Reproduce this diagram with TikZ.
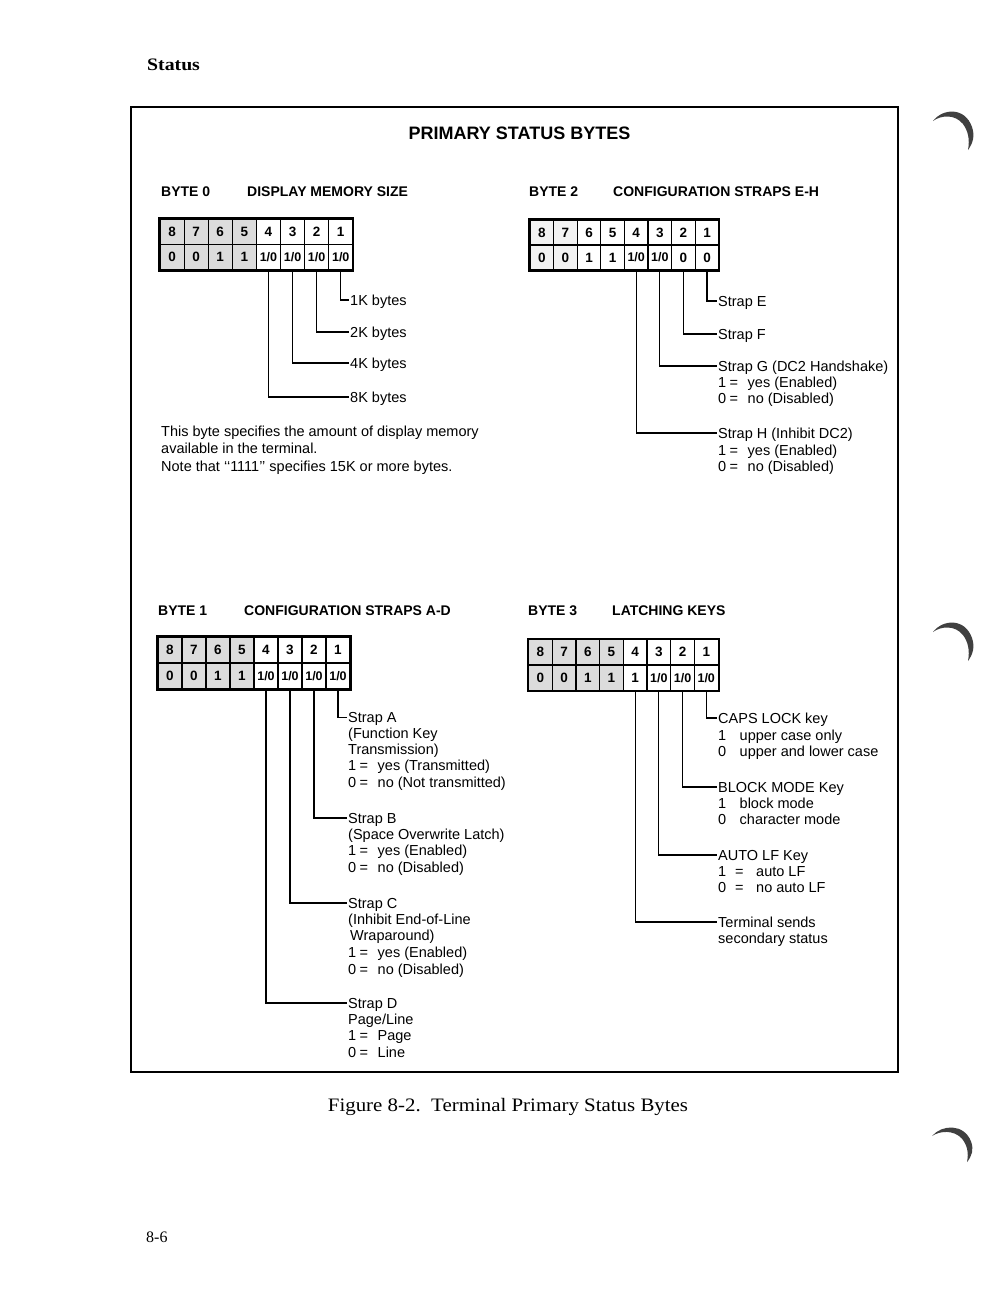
\documentclass[tikz,border=0pt]{standalone}
\usepackage{graphicx}
\usepackage{fontspec}
\newfontfamily\arial{Liberation Sans}
\newfontfamily\serifface{Liberation Serif}
\definecolor{shade}{HTML}{DCDCDC}
\definecolor{shadelt}{HTML}{F2F2F2}
\newcommand\IO{{\fontsize{12.5}{12.5}\selectfont 1/0}}
\newcommand\eqline[2]{\makebox[11.5pt][l]{#1}\makebox[18pt][l]{=}#2}
\newcommand\nbline[2]{\makebox[21.5pt][l]{#1}#2}
\tikzset{
  cell/.style={draw=black, line width=1.2pt, inner sep=0pt,
    font=\arial\bfseries\fontsize{13.5}{13.5}\selectfont},
  gridout/.style={draw=black, line width=2pt},
  conn/.style={draw=black, line width=1.2pt},
  frame/.style={draw=black, line width=1.5pt},
  lbl/.style={anchor=west, inner xsep=1pt, inner ysep=0pt, text height=10.4pt, text depth=0pt,
    font=\arial\fontsize{14.5}{16.4}\selectfont},
  descline/.style={anchor=base west, inner sep=0pt,
    font=\arial\fontsize{14.5}{16.4}\selectfont},
  head/.style={anchor=west, inner sep=0pt, text height=10pt, text depth=0pt,
    font=\arial\bfseries\fontsize{14}{14}\selectfont},
  title/.style={inner sep=0pt, text height=12.9pt, text depth=0pt,
    font=\arial\bfseries\fontsize{18}{18}\selectfont},
  curl/.style={fill=black!75},
}
\newcommand\bytegrid[6]{% name, x0, y0, w, h, spec
  \foreach \cb/\cv/\cf [count=\ci from 0] in {#6} {
    \node[cell, fill=\cf, minimum width=#4pt, minimum height=#5pt] (#1t\cb)
      at ({#2+(\ci+0.5)*#4},{#3+0.5*#5}) {\cb};
    \node[cell, fill=\cf, minimum width=#4pt, minimum height=#5pt] (#1v\cb)
      at ({#2+(\ci+0.5)*#4},{#3+1.5*#5}) {\cv};
  }
  \draw[gridout] (#1t8.north west) rectangle (#1v1.south east);
}
\newcommand\desclines[5]{% name, x, ybase, skip, list
  \foreach \dl [count=\dk from 0] in {#5} {
    \node[descline] (#1\dk) at (#2, {#3+\dk*#4}) {\dl};
  }
}
\newcommand\curlshape{%
  (0,0) .. controls (10,-13) and (32,-14) .. (39,6)
        .. controls (42,15) and (40,22) .. (35,29)
        .. controls (37,18) and (35,10) .. (30,3)
        .. controls (22,-7) and (8,-6) .. (0,0) -- cycle}
\begin{document}
\begin{tikzpicture}[x=1pt,y=-1pt]
\useasboundingbox (0,0) rectangle (1002,1294);
\fill[white] (0,0) rectangle (1002,1294);

% page header, footer, caption
\node[anchor=west, inner sep=0pt, text height=11.6pt, text depth=0pt,
  font=\serifface\bfseries\fontsize{17.5}{17.5}\selectfont] (status) at (147,65) {\scalebox{1.13}[1]{Status}};
\node[inner sep=0pt, text height=12.6pt, text depth=0pt,
  font=\serifface\fontsize{19}{19}\selectfont] (caption) at (508,1105) {\scalebox{1.1}[1]{Figure 8-2.\ \ Terminal Primary Status Bytes}};
\node[anchor=west, inner sep=0pt, text height=10.8pt, text depth=0pt,
  font=\serifface\fontsize{16}{16}\selectfont] (pageno) at (146,1237) {8-6};

% frame
\draw[frame] (131,107) rectangle (898,1072);
\node[title] (ttl) at (519.5,133) {PRIMARY STATUS BYTES};

% ---------- BYTE 0 ----------
\node[head] (h0a) at (161,191) {BYTE 0};
\node[head] (h0b) at (247,191) {DISPLAY MEMORY SIZE};
\bytegrid{b0}{160}{219}{24.1}{25.5}{8/0/shade,7/0/shade,6/1/shade,5/1/shade,4/\IO/white,3/\IO/white,2/\IO/white,1/\IO/white}
\node[lbl] (k1) at (349,300) {1K bytes};
\node[lbl] (k2) at (349,332) {2K bytes};
\node[lbl] (k4) at (349,363) {4K bytes};
\node[lbl] (k8) at (349,397) {8K bytes};
\draw[conn] (b0v1.south) |- (k1.west);
\draw[conn] (b0v2.south) |- (k2.west);
\draw[conn] (b0v3.south) |- (k4.west);
\draw[conn] (b0v4.south) |- (k8.west);
\desclines{p0}{161}{436.2}{17.4}{{This byte specifies the amount of display memory},{available in the terminal.},{Note that ‘‘1111’’ specifies 15K or more bytes.}}

% ---------- BYTE 2 ----------
\node[head] (h2a) at (529,191) {BYTE 2};
\node[head] (h2b) at (613,191) {CONFIGURATION STRAPS E-H};
\bytegrid{b2}{530}{220}{23.6}{25}{8/0/shadelt,7/0/shadelt,6/1/white,5/1/white,4/\IO/white,3/\IO/white,2/0/white,1/0/white}
\node[lbl] (sE) at (717,301) {Strap E};
\node[lbl] (sF) at (717,334) {Strap F};
\node[lbl] (sG) at (717,366) {Strap G (DC2 Handshake)};
\node[lbl] (sH) at (717,433) {Strap H (Inhibit DC2)};
\draw[conn] (b2v1.south) |- (sE.west);
\draw[conn] (b2v2.south) |- (sF.west);
\draw[conn] (b2v3.south) |- (sG.west);
\draw[conn] (b2v4.south) |- (sH.west);
\desclines{dG}{718}{387.2}{16.4}{{\eqline{1}{yes (Enabled)}},{\eqline{0}{no (Disabled)}}}
\desclines{dH}{718}{455.2}{16.4}{{\eqline{1}{yes (Enabled)}},{\eqline{0}{no (Disabled)}}}

% ---------- BYTE 1 ----------
\node[head] (h1a) at (158,610) {BYTE 1};
\node[head] (h1b) at (244,610) {CONFIGURATION STRAPS A-D};
\bytegrid{b1}{158}{637}{24}{26}{8/0/shade,7/0/shade,6/1/shade,5/1/shade,4/\IO/white,3/\IO/white,2/\IO/white,1/\IO/white}
\node[lbl] (sA) at (347,717.5) {Strap A};
\node[lbl] (sB) at (347,818) {Strap B};
\node[lbl] (sC) at (347,903) {Strap C};
\node[lbl] (sD) at (347,1003) {Strap D};
\draw[conn] (b1v1.south) |- (sA.west);
\draw[conn] (b1v2.south) |- (sB.west);
\draw[conn] (b1v3.south) |- (sC.west);
\draw[conn] (b1v4.south) |- (sD.west);
\desclines{dA}{348}{738.2}{16.3}{{(Function Key},{Transmission)},{\eqline{1}{yes (Transmitted)}},{\eqline{0}{no (Not transmitted)}}}
\desclines{dB}{348}{839.2}{16.4}{{(Space Overwrite Latch)},{\eqline{1}{yes (Enabled)}},{\eqline{0}{no (Disabled)}}}
\desclines{dC}{348}{924.2}{16.6}{{(Inhibit End-of-Line},{\hspace{2pt}Wraparound)},{\eqline{1}{yes (Enabled)}},{\eqline{0}{no (Disabled)}}}
\desclines{dD}{348}{1024.2}{16.5}{{Page/Line},{\eqline{1}{Page}},{\eqline{0}{Line}}}

% ---------- BYTE 3 ----------
\node[head] (h3a) at (528,610) {BYTE 3};
\node[head] (h3b) at (612,610) {LATCHING KEYS};
\bytegrid{b3}{528.5}{639.5}{23.7}{25.5}{8/0/shade,7/0/shade,6/1/shade,5/1/shade,4/1/white,3/\IO/white,2/\IO/white,1/\IO/white}
\node[lbl] (kC) at (717,718) {CAPS LOCK key};
\node[lbl] (kB) at (717,787) {BLOCK MODE Key};
\node[lbl] (kA) at (717,855) {AUTO LF Key};
\node[lbl] (kT) at (717,922) {Terminal sends};
\draw[conn] (b3v1.south) |- (kC.west);
\draw[conn] (b3v2.south) |- (kB.west);
\draw[conn] (b3v3.south) |- (kA.west);
\draw[conn] (b3v4.south) |- (kT.west);
\desclines{dC3}{718}{740.2}{16.5}{{\nbline{1}{upper case only}},{\nbline{0}{upper and lower case}}}
\desclines{dB3}{718}{808.2}{16.3}{{\nbline{1}{block mode}},{\nbline{0}{character mode}}}
\desclines{dA3}{718}{876.2}{16.3}{{\makebox[17pt][l]{1}\makebox[21pt][l]{=}auto LF},{\makebox[17pt][l]{0}\makebox[21pt][l]{=}no auto LF}}
\desclines{dT3}{718}{943.2}{16.4}{{secondary status}}

% ---------- page curls ----------
\begin{scope}[shift={(933,121)}]
  \fill[curl] \curlshape;
\end{scope}
\begin{scope}[shift={(933,632)}]
  \fill[curl] \curlshape;
\end{scope}
\begin{scope}[shift={(932,1136)}, yscale=0.9]
  \fill[curl] \curlshape;
\end{scope}
\end{tikzpicture}
\end{document}
